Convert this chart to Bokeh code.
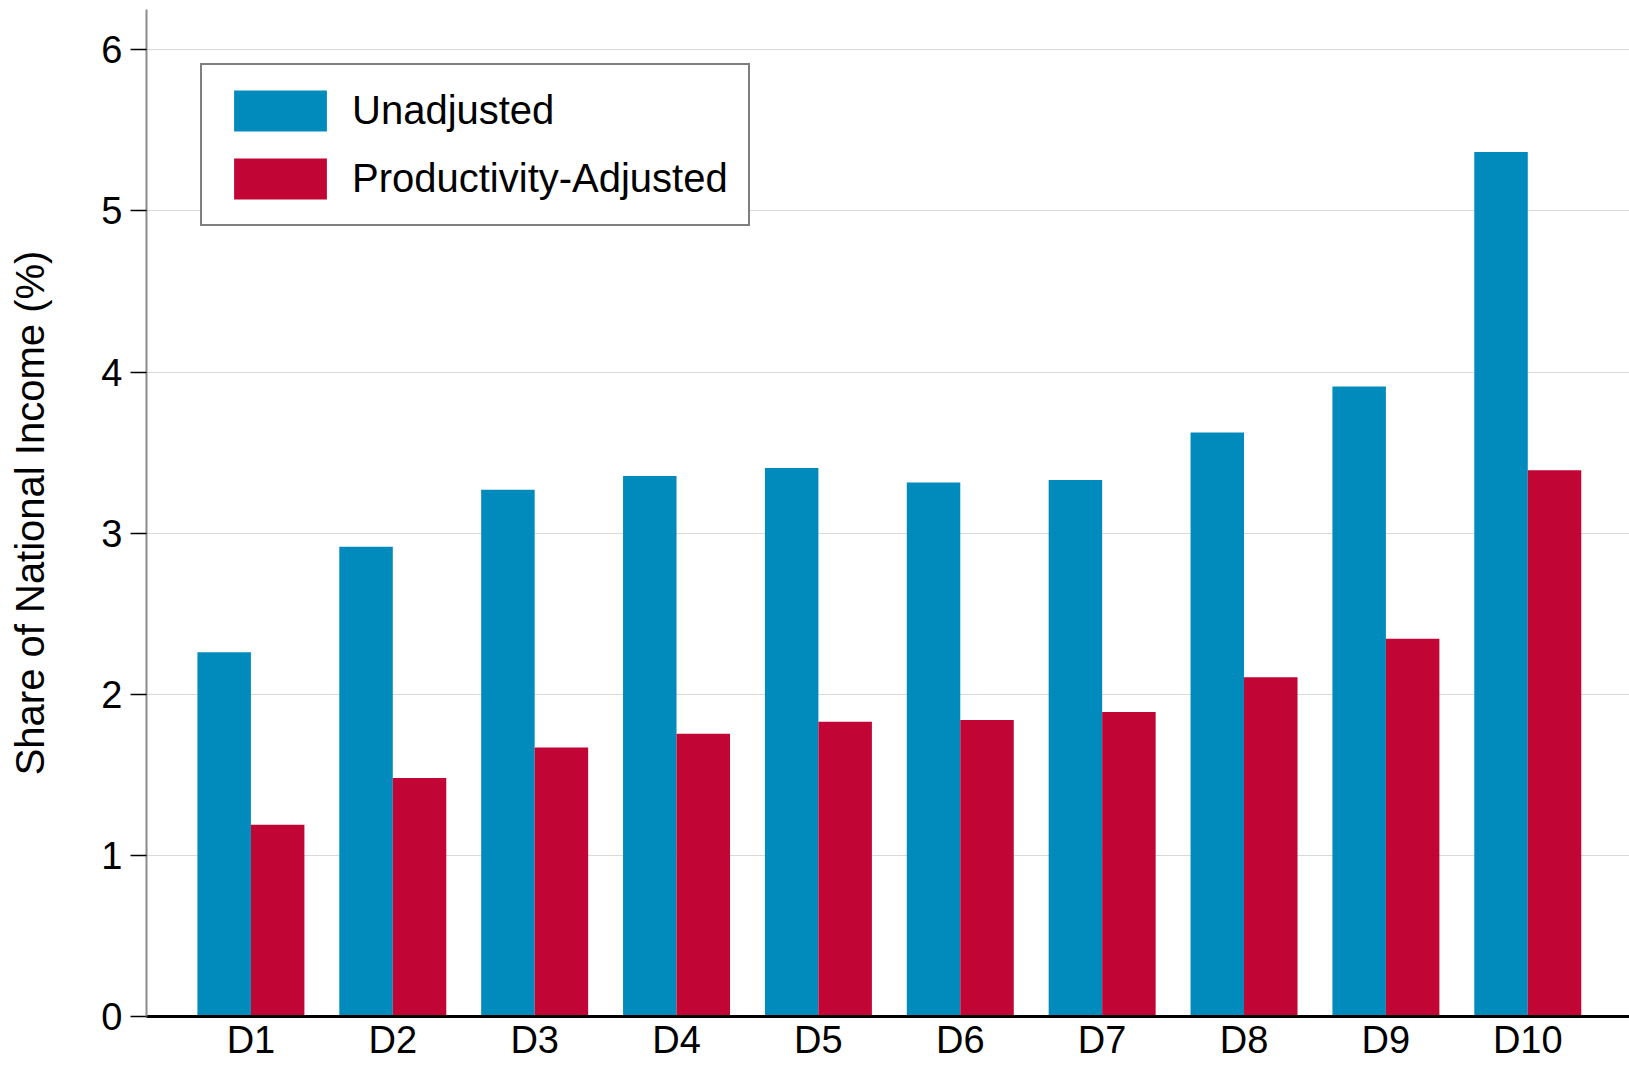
from bokeh.plotting import figure
from bokeh.models import ColumnDataSource, Range1d, FixedTicker, Legend, LegendItem
from bokeh.embed import file_html
from bokeh.resources import INLINE

categories = ["D1", "D2", "D3", "D4", "D5", "D6", "D7", "D8", "D9", "D10"]
unadjusted = [2.26, 2.915, 3.27, 3.355, 3.405, 3.315, 3.33, 3.625, 3.91, 5.365]
productivity_adjusted = [1.19, 1.48, 1.67, 1.755, 1.83, 1.84, 1.89, 2.105, 2.345, 3.39]
y_ticks = [0, 1, 2, 3, 4, 5, 6]
series_names = ["Unadjusted", "Productivity-Adjusted"]
colors = ["#008BBC", "#C10534"]

FONT = "Liberation Sans"
W, H = 1629, 1065

xpos = list(range(1, len(categories) + 1))
bw = 0.377
src = ColumnDataSource(dict(
    x=xpos,
    xu=[x - bw / 2 for x in xpos],
    xa=[x + bw / 2 for x in xpos],
    u=unadjusted,
    a=productivity_adjusted,
))

p = figure(width=W, height=H, output_backend="svg", toolbar_location=None,
           x_range=Range1d(0.264, 10.717), y_range=Range1d(0, 6.25),
           min_border_left=146, min_border_right=0, min_border_top=9, min_border_bottom=49)
p.outline_line_color = None
p.background_fill_color = "white"
p.border_fill_color = "white"

r_u = p.vbar(x="xu", top="u", width=bw, source=src, fill_color=colors[0], line_color=None)
r_a = p.vbar(x="xa", top="a", width=bw, source=src, fill_color=colors[1], line_color=None)

# x axis
p.xaxis.ticker = FixedTicker(ticks=xpos)
p.xaxis.major_label_overrides = {x: c for x, c in zip(xpos, categories)}
p.xaxis.axis_line_color = "black"
p.xaxis.axis_line_width = 3
p.xaxis.major_tick_line_color = None
p.xaxis.major_tick_out = 0
p.xaxis.major_tick_in = 0
p.xaxis.minor_tick_line_color = None
p.xaxis.minor_tick_out = 0
p.xaxis.major_label_text_font = FONT
p.xaxis.major_label_text_font_size = "38px"
p.xaxis.major_label_text_color = "black"
p.xaxis.major_label_standoff = 2
p.xgrid.grid_line_color = None

# y axis
p.yaxis.ticker = FixedTicker(ticks=y_ticks)
p.yaxis.axis_line_color = "#8c8c8c"
p.yaxis.axis_line_width = 2
p.yaxis.major_tick_line_color = "black"
p.yaxis.major_tick_line_width = 1.5
p.yaxis.major_tick_out = 16
p.yaxis.major_tick_in = 0
p.yaxis.minor_tick_line_color = None
p.yaxis.major_label_text_font = FONT
p.yaxis.major_label_text_font_size = "38px"
p.yaxis.major_label_text_color = "black"
p.yaxis.major_label_standoff = 8
p.yaxis.axis_label = "Share of National Income (%)"
p.yaxis.axis_label_text_font = FONT
p.yaxis.axis_label_text_font_size = "40px"
p.yaxis.axis_label_text_font_style = "normal"
p.yaxis.axis_label_text_color = "black"
p.yaxis.axis_label_standoff = 46
p.ygrid.ticker = FixedTicker(ticks=y_ticks[1:])
p.ygrid.grid_line_color = "#d9d9d9"
p.ygrid.grid_line_width = 1

legend = Legend(items=[LegendItem(label=series_names[0], renderers=[r_u]),
                       LegendItem(label=series_names[1], renderers=[r_a])],
                location="top_left")
legend.margin = 54
legend.padding = 20
legend.spacing = 17
legend.glyph_width = 116
legend.glyph_height = 51
legend.label_height = 51
legend.label_standoff = 14
legend.label_text_font = FONT
legend.label_text_font_size = "40px"
legend.label_text_color = "black"
legend.border_line_color = "black"
legend.border_line_width = 2
legend.background_fill_color = "white"
legend.background_fill_alpha = 1
p.add_layout(legend, "center")

open("out.html", "w").write(file_html(p, INLINE))
